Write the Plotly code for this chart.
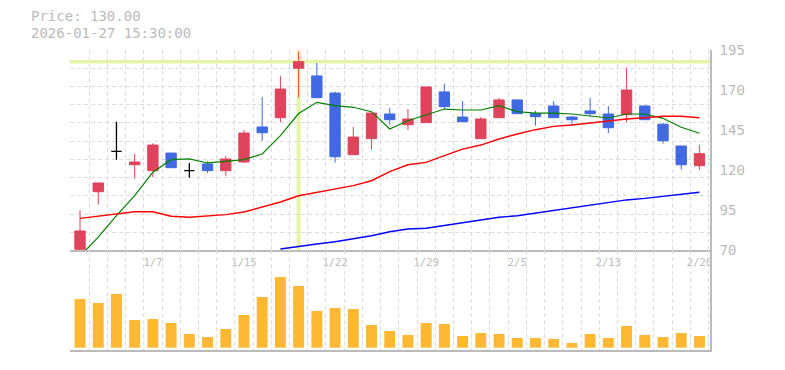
import plotly.graph_objects as go

dates = ["12/29", "12/30", "1/5", "1/6", "1/7", "1/8", "1/9", "1/13", "1/14", "1/15",
         "1/16", "1/19", "1/20", "1/21", "1/22", "1/23", "1/26", "1/27", "1/28", "1/29",
         "1/30", "2/2", "2/3", "2/4", "2/5", "2/6", "2/9", "2/10", "2/12", "2/13",
         "2/16", "2/17", "2/18", "2/19", "2/20"]
tick_labels = ["1/7", "1/15", "1/22", "1/29", "2/5", "2/13", "2/20"]

open_ = [70.75, 106.75, 132.0, 123.6, 119.9, 130.9, 119.9, 124.1, 119.9, 125.3,
         147.2, 153.0, 183.9, 179.1, 168.4, 129.9, 139.9, 155.3, 148.6, 149.9,
         169.1, 153.4, 139.9, 153.0, 164.1, 155.5, 160.3, 153.4, 157.2, 155.3,
         154.9, 160.3, 148.9, 135.3, 123.0]
high = [95.3, 112.2, 150.5, 130.3, 137.0, 130.9, 124.7, 125.75, 129.1, 145.3,
        165.9, 179.1, 194.25, 187.2, 169.25, 147.2, 155.9, 159.1, 158.4, 172.2,
        174.1, 163.4, 153.4, 165.3, 164.1, 157.4, 163.4, 154.25, 165.3, 160.3,
        184.25, 160.9, 149.7, 135.3, 135.9]
low = [70.75, 98.6, 126.75, 114.9, 115.75, 121.75, 115.5, 118.4, 116.75, 124.7,
       138.6, 150.1, 165.5, 165.5, 124.9, 129.9, 133.0, 148.6, 145.5, 149.9,
       158.25, 150.5, 139.9, 153.0, 155.5, 148.0, 153.0, 148.4, 153.6, 143.4,
       150.3, 151.75, 136.75, 120.5, 120.5]
close = [82.2, 112.2, 132.0, 125.3, 135.9, 121.75, 119.9, 119.9, 127.2, 143.4,
         143.6, 170.9, 188.0, 165.5, 128.6, 140.9, 155.9, 151.75, 152.2, 172.2,
         159.9, 150.5, 152.2, 164.1, 155.5, 153.6, 153.0, 151.75, 155.5, 146.75,
         170.3, 151.75, 138.6, 123.6, 130.5]

ma_short = [66.5, 78.4, 91.75, 104.25, 118.9, 126.75, 127.2, 124.7, 125.75, 126.75,
            130.3, 141.75, 155.6, 162.6, 160.5, 159.5, 156.75, 145.9, 151.1, 154.7,
            158.4, 157.8, 157.8, 160.5, 156.75, 155.9, 155.9, 155.3, 154.25, 152.8,
            155.3, 155.3, 152.6, 147.0, 143.25]
ma_mid = [90.1, 91.6, 93.0, 94.25, 94.25, 91.4, 90.75, 91.4, 92.4, 94.1,
          97.0, 100.3, 104.2, 106.4, 108.4, 110.5, 113.6, 119.25, 123.6, 125.1,
          129.25, 133.4, 135.9, 139.7, 142.8, 145.5, 147.6, 148.4, 149.7, 151.1,
          152.2, 153.0, 153.9, 153.9, 153.0]
ma_long = [None, None, None, None, None, None, None, None, None, None,
           None, 70.9, 72.6, 74.1, 75.5, 77.2, 79.25, 81.75, 83.4, 83.9,
           85.5, 87.2, 89.1, 90.75, 91.75, 93.4, 94.9, 96.6, 98.4, 100.1,
           101.6, 102.6, 103.9, 105.1, 106.4]
volume = [487, 447, 537, 277, 287, 247, 137, 107, 187, 327,
          507, 707, 617, 367, 397, 387, 227, 167, 127, 247,
          237, 117, 147, 137, 97, 97, 87, 47, 137, 97,
          217, 127, 107, 147, 117]

cursor_index = 12
price_text = "Price: 130.00"
time_text = "2026-01-27 15:30:00"

UP = "#e0435c"
DOWN = "#4169e1"
GRID = "#dddddd"
TXT = "#bbbbbb"
MONO = "DejaVu Sans Mono"

xs = list(range(len(dates)))
doji = [o == c for o, c in zip(open_, close)]
normal = [not d for d in doji]


def pick(arr, keep):
    return [v for v, k in zip(arr, keep) if k]


fig = go.Figure()
fig.add_trace(go.Candlestick(
    x=pick(xs, normal), open=pick(open_, normal), high=pick(high, normal),
    low=pick(low, normal), close=pick(close, normal),
    increasing=dict(fillcolor=UP, line=dict(color=UP, width=1)),
    decreasing=dict(fillcolor=DOWN, line=dict(color=DOWN, width=1)),
    whiskerwidth=0, xaxis="x", yaxis="y", hoverinfo="skip"))
fig.add_trace(go.Candlestick(
    x=pick(xs, doji), open=pick(open_, doji), high=pick(high, doji),
    low=pick(low, doji), close=pick(close, doji),
    increasing=dict(fillcolor="black", line=dict(color="black", width=1.3)),
    decreasing=dict(fillcolor="black", line=dict(color="black", width=1.3)),
    whiskerwidth=0, xaxis="x", yaxis="y", hoverinfo="skip"))

fig.add_trace(go.Scatter(x=xs, y=ma_short, mode="lines",
                         line=dict(color="#008000", width=1.2), xaxis="x", yaxis="y"))
fig.add_trace(go.Scatter(x=xs, y=ma_mid, mode="lines",
                         line=dict(color="#ff0000", width=1.4), xaxis="x", yaxis="y"))
fig.add_trace(go.Scatter(x=xs, y=ma_long, mode="lines", connectgaps=False,
                         line=dict(color="#0000ff", width=1.4), xaxis="x", yaxis="y"))

fig.add_trace(go.Bar(x=xs, y=volume, marker=dict(color="#ffb833", line=dict(width=0)),
                     width=0.6, xaxis="x2", yaxis="y2", hoverinfo="skip"))

P0, P1 = 70, 195.3
split = 0.33167
xr = [-0.55, 34.58]

tickvals = [i for i, d in enumerate(dates) if d in tick_labels]
ticktext = [dates[i] for i in tickvals]

minor_x = dict(showgrid=True, tick0=0.5, dtick=1, gridcolor=GRID, griddash="4px,3px", gridwidth=1)

fig.update_layout(
    width=785, height=370,
    margin=dict(l=70, r=75, t=50, b=20),
    paper_bgcolor="white", plot_bgcolor="white",
    showlegend=False, hovermode=False,
    boxgap=0.2, boxgroupgap=0.29,
    xaxis=dict(domain=[0, 1], anchor="y", range=xr, showgrid=False, zeroline=False,
               tickmode="array", tickvals=tickvals, ticktext=ticktext,
               tickfont=dict(family=MONO, size=10.5, color=TXT), ticks="",
               ticklabelstandoff=1,
               showline=True, linecolor="#bbbbbb", linewidth=1.5,
               rangeslider=dict(visible=False), minor=minor_x),
    xaxis2=dict(domain=[0, 1], anchor="y2", matches="x", range=xr, showgrid=False,
                zeroline=False, showticklabels=False, ticks="",
                showline=True, linecolor="#bbbbbb", linewidth=1.5,
                rangeslider=dict(visible=False), minor=minor_x),
    yaxis=dict(domain=[split, 1], anchor="x", side="right", range=[P0, P1],
               tickmode="array", tickvals=[70, 95, 120, 145, 170, 195],
               tickfont=dict(family=MONO, size=14, color=TXT), ticks="",
               ticklabelstandoff=5,
               showgrid=False, zeroline=False,
               showline=True, linecolor="#bbbbbb", linewidth=1.5,
               minor=dict(showgrid=True, tick0=P0, dtick=(P1 - P0) / 11 - 1e-6,
                          gridcolor=GRID, griddash="4px,3px", gridwidth=1)),
    yaxis2=dict(domain=[0, split], anchor="x2", side="right", range=[-23, 972],
                showticklabels=False, ticks="", showgrid=False, zeroline=False,
                showline=True, linecolor="#bbbbbb", linewidth=1.5),
)

fig.add_shape(type="line", xref="x", yref="y domain", x0=cursor_index, x1=cursor_index,
              y0=0, y1=1, line=dict(color="#e4f5a6", width=4), layer="below")
fig.add_shape(type="line", xref="x domain", yref="y", x0=0, x1=1,
              y0=close[cursor_index], y1=close[cursor_index],
              line=dict(color="#e4f5a6", width=3.5), layer="below")

fig.add_annotation(text=price_text, xref="paper", yref="paper", x=-0.0625, y=1.1117,
                   xanchor="left", yanchor="middle", showarrow=False, borderpad=0,
                   font=dict(family=MONO, size=14, color=TXT))
fig.add_annotation(text=time_text, xref="paper", yref="paper", x=-0.0625, y=1.0567,
                   xanchor="left", yanchor="middle", showarrow=False, borderpad=0,
                   font=dict(family=MONO, size=14, color=TXT))

fig.write_html("out.html", config={"displayModeBar": False},
               post_script="document.body.style.margin='0';document.body.style.padding='0';")
